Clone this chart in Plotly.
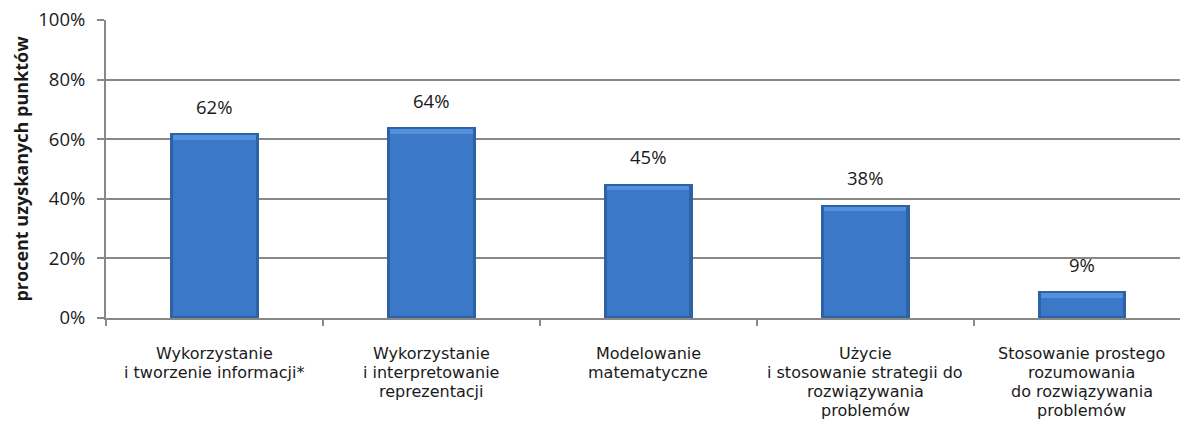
import plotly.graph_objects as go

# Skills measured and share of points obtained (percent)
categories = [
    "Wykorzystanie\ni tworzenie informacji*",
    "Wykorzystanie\ni interpretowanie\nreprezentacji",
    "Modelowanie\nmatematyczne",
    "Użycie\ni stosowanie strategii do\nrozwiązywania\nproblemów",
    "Stosowanie prostego\nrozumowania\ndo rozwiązywania\nproblemów",
]
values = [62, 64, 45, 38, 9]
y_ticks = [0, 20, 40, 60, 80, 100]
y_tick_text = ["0%", "20%", "40%", "60%", "80%", "100%"]

FONT = "Open Sans"
CAP_FONT = "DejaVu Sans"
GRID = "#888888"
TXT = "#1a1a1a"
SIZE = 18.5
CAP_SIZE = 16
LINE_GAP = 19  # tight line spacing of the category captions

fig = go.Figure()

# outer (darker) rim of each bar
fig.add_trace(go.Bar(
    x=categories, y=values, width=0.41,
    marker=dict(color="#2D62A6", line=dict(width=0)),
    hoverinfo="skip", showlegend=False,
))
# main face
fig.add_trace(go.Bar(
    x=categories, y=[v - 1.3 for v in values], base=0.6, width=0.38,
    marker=dict(color="#3B78C8", line=dict(width=0)),
    hoverinfo="skip", showlegend=False,
))
# lighter bevel along the top
fig.add_trace(go.Bar(
    x=categories, y=[1.6] * len(values), base=[v - 2.2 for v in values], width=0.38,
    marker=dict(color="#5490DC", line=dict(width=0)),
    hoverinfo="skip", showlegend=False,
))

# value labels above the bars
for c, v in zip(categories, values):
    fig.add_annotation(
        x=c, y=v, text=f"{v}%", showarrow=False,
        yanchor="middle", yshift=27,
        font=dict(family=FONT, size=SIZE, color=TXT),
    )

# category captions under the axis, one line at a time
for c in categories:
    for i, line in enumerate(c.split("\n")):
        fig.add_annotation(
            x=c, xref="x", y=0, yref="paper", text=line, showarrow=False,
            yanchor="middle", yshift=-(35 + i * LINE_GAP),
            borderpad=0,
            font=dict(family=CAP_FONT, size=CAP_SIZE, color=TXT),
        )

fig.update_layout(
    width=1180, height=441,
    margin=dict(l=106, r=0, t=20, b=123),
    paper_bgcolor="white", plot_bgcolor="white",
    barmode="overlay", bargap=0,
    font=dict(family=FONT, size=SIZE, color=TXT),
)

fig.update_xaxes(
    range=[-0.5, 4.452],
    tickson="boundaries", ticks="outside", ticklen=6, tickcolor=GRID, tickwidth=1.5,
    showline=True, linecolor=GRID, linewidth=2,
    showgrid=False, showticklabels=False,
)
fig.update_yaxes(
    range=[0, 100], tickvals=y_ticks, ticktext=y_tick_text,
    ticks="outside", ticklen=7, tickcolor=GRID, tickwidth=1.5,
    showline=True, linecolor=GRID, linewidth=2,
    showgrid=True, gridcolor=GRID, gridwidth=2,
    zeroline=False, ticklabelstandoff=8,
    tickfont=dict(family=FONT, size=SIZE, color=TXT),
    title=dict(text="<b>procent uzyskanych punktów</b>", standoff=5,
               font=dict(family=FONT, size=18, color=TXT)),
)

fig.write_html("out.html")
